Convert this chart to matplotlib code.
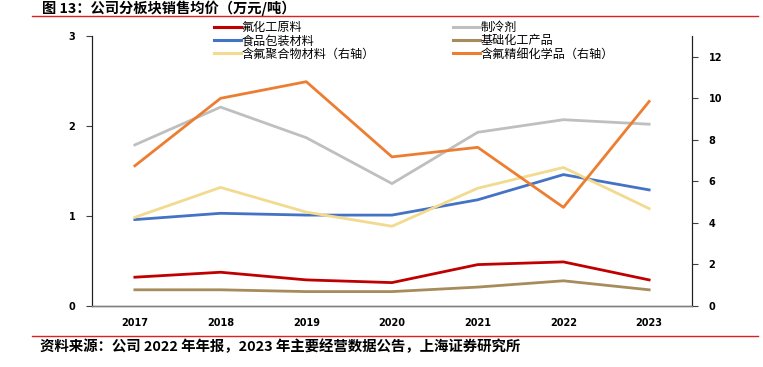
import matplotlib
matplotlib.use('Agg')
from matplotlib import pyplot as plt
from matplotlib.lines import Line2D
import numpy as np

plt.rcParams['font.family'] = ['Noto Sans CJK SC', 'DejaVu Sans']

years = ['2017', '2018', '2019', '2020', '2021', '2022', '2023']

# 左轴
fluoro_raw = [0.32, 0.375, 0.29, 0.26, 0.46, 0.49, 0.29]       # 氟化工原料
refrigerant = [1.79, 2.21, 1.87, 1.36, 1.93, 2.07, 2.02]        # 制冷剂
food_pack = [0.96, 1.03, 1.01, 1.01, 1.18, 1.46, 1.29]          # 食品包装材料
basic_chem = [0.18, 0.18, 0.16, 0.16, 0.21, 0.28, 0.18]         # 基础化工产品
# 右轴
fluoro_polymer = [4.27, 5.71, 4.52, 3.84, 5.67, 6.67, 4.69]     # 含氟聚合物材料
fluoro_fine = [6.75, 10.0, 10.8, 7.18, 7.64, 4.75, 9.85]        # 含氟精细化学品

c_red = '#C00000'
c_gray = '#BFBFBF'
c_blue = '#4472C4'
c_brown = '#A68B5B'
c_yellow = '#F2DA8E'
c_orange = '#ED7D31'
lw = 2.0

fig = plt.figure(figsize=(7.63, 3.67), dpi=100)
ax = fig.add_axes([92 / 763, 1 - 306 / 367, 600 / 763, 270 / 367])
ax2 = ax.twinx()

x = np.arange(len(years))
ax.plot(x, fluoro_raw, color=c_red, lw=lw)
ax.plot(x, refrigerant, color=c_gray, lw=lw)
ax.plot(x, food_pack, color=c_blue, lw=lw)
ax.plot(x, basic_chem, color=c_brown, lw=lw)
ax2.plot(x, fluoro_polymer, color=c_yellow, lw=lw)
ax2.plot(x, fluoro_fine, color=c_orange, lw=lw)

ax.set_xlim(-0.5, len(years) - 0.5)
ax.set_ylim(0, 3)
ax2.set_ylim(0, 13)
ax.set_yticks([0, 1, 2, 3])
ax2.set_yticks(range(0, 13, 2))
ax.set_xticks(x)
ax.set_xticklabels(years)

for lab in ax.get_xticklabels() + ax.get_yticklabels() + ax2.get_yticklabels():
    lab.set_fontfamily('DejaVu Sans')
    lab.set_fontweight('bold')
    lab.set_fontsize(7)

ax.tick_params(axis='x', length=0, pad=9)
ax.tick_params(axis='y', length=4, width=0.8, pad=8, color='#404040')
ax2.tick_params(axis='y', length=4, width=0.8, pad=8, color='#404040')

for a in (ax, ax2):
    a.spines['top'].set_visible(False)
    a.spines['bottom'].set_color('#808080')
    a.spines['left'].set_color('#202020')
    a.spines['right'].set_color('#202020')
    a.spines['bottom'].set_linewidth(1.0)

# 图例
h1 = [Line2D([], [], color=c_red, lw=2.2),
      Line2D([], [], color=c_blue, lw=2.2),
      Line2D([], [], color=c_yellow, lw=2.2)]
l1 = ['氟化工原料', '食品包装材料', '含氟聚合物材料（右轴）']
h2 = [Line2D([], [], color=c_gray, lw=2.2),
      Line2D([], [], color=c_brown, lw=2.2),
      Line2D([], [], color=c_orange, lw=2.2)]
l2 = ['制冷剂', '基础化工产品', '含氟精细化学品（右轴）']
leg_kw = dict(loc='upper left', frameon=False, fontsize=8.7, handlelength=2.2,
              handletextpad=0.1, labelspacing=0.02, borderpad=0, borderaxespad=0)
leg1 = fig.legend(h1, l1, bbox_to_anchor=(214 / 763, 1 - 21 / 367), **leg_kw)
leg2 = fig.legend(h2, l2, bbox_to_anchor=(453 / 763, 1 - 21 / 367), **leg_kw)

# 标题与来源
fig.text(42 / 763, 1 - 8 / 367, '图 13：公司分板块销售均价（万元/吨）', fontsize=10.3,
         weight='bold', va='center', ha='left')
fig.add_artist(Line2D([32 / 763, 758 / 763], [1 - 16 / 367, 1 - 16 / 367],
                      color='#E02020', lw=1.0))
fig.add_artist(Line2D([32 / 763, 758 / 763], [1 - 336 / 367, 1 - 336 / 367],
                      color='#E02020', lw=1.0))
fig.text(40 / 763, 1 - 347 / 367,
         '资料来源：公司 2022 年年报，2023 年主要经营数据公告，上海证券研究所',
         fontsize=10.4, weight='bold', style='italic', va='center', ha='left')

fig.savefig('out.png', dpi=100)
